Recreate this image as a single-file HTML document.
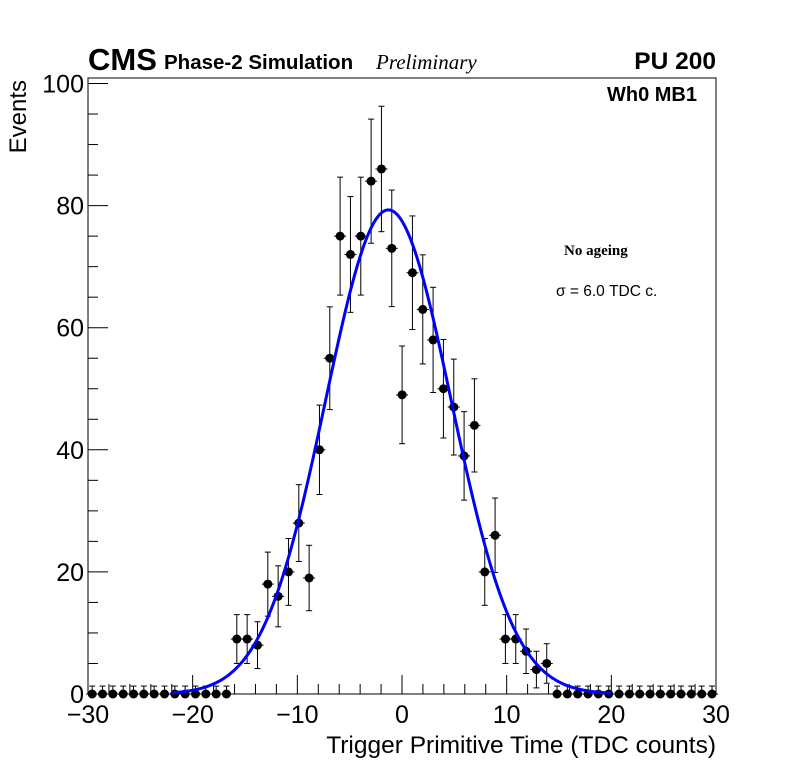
<!DOCTYPE html>
<html><head><meta charset="utf-8"><style>
body{margin:0;background:#fff}
svg{display:block;font-family:"Liberation Sans",sans-serif}
</style></head><body>
<svg id="c" width="796" height="772" viewBox="0 0 796 772">
<rect x="0" y="0" width="796" height="772" fill="#fff"/>
<g id="marks"></g>
<text x="88" y="70" font-size="31" font-weight="bold">CMS</text>
<text x="164" y="69" font-size="20.5" font-weight="bold">Phase-2 Simulation</text>
<text x="376" y="69" font-size="21" font-style="italic" font-family="Liberation Serif, serif">Preliminary</text>
<text x="716" y="69" font-size="24.5" font-weight="bold" text-anchor="end">PU 200</text>
<text x="697" y="101" font-size="20" font-weight="bold" text-anchor="end">Wh0 MB1</text>
<text x="564" y="255" font-size="15" font-weight="bold" font-family="Liberation Serif, serif">No ageing</text>
<text x="556" y="296" font-size="15.5">σ = 6.0 TDC c.</text>
<text transform="translate(26,80) rotate(-90)" font-size="24" text-anchor="end">Events</text>
<text x="716" y="753" font-size="24.5" text-anchor="end">Trigger Primitive Time (TDC counts)</text>
</svg>
<script>
const xTicks = [-30,-20,-10,0,10,20,30];
const xTickLabels = ["\u221230","\u221220","\u221210","0","10","20","30"];
const yTicks = [0,20,40,60,80,100];
const yTickLabels = ["0","20","40","60","80","100"];
const binCount = 61;
const firstCenter = -29.6;
const binStep = 0.987;
const counts = [0,0,0,0,0,0,0,0,0,0,0,0,0,0,
 9,9,8,18,16,20,28,19,40,55,75,72,75,84,86,73,49,69,63,58,50,47,39,44,20,26,9,9,7,4,5,
 0,0,0,0,0,0,0,0,0,0,0,0,0,0,0,0];
const fitAmp = 79.3, fitMean = -1.3, fitSigma = 6.0;
const fitRange = [-22, 20];

const X0=88,X1=716,Y0=694,Y100=83.5;
const sx=v=>X0+(v+30)*(X1-X0)/60;
const sy=v=>Y0-v*(Y0-Y100)/100;
const NS="http://www.w3.org/2000/svg";
const g=document.getElementById('marks');
function mk(t,a,p){const e=document.createElementNS(NS,t);for(const k in a)e.setAttribute(k,a[k]);(p||g).appendChild(e);return e;}

const frame=mk('rect',{x:X0,y:78,width:X1-X0,height:Y0-78,fill:'none',stroke:'#000','stroke-width':1});



for(let v=-30;v<=30;v+=2){const maj=v%10===0;const t=mk('line',{x1:sx(v),x2:sx(v),y1:Y0,y2:Y0-(maj?19:10),stroke:'#000'});

}
for(let v=0;v<=100;v+=5){const maj=v%20===0;const t=mk('line',{x1:X0,x2:X0+(maj?20:10),y1:sy(v),y2:sy(v),stroke:'#000'});

}
xTicks.forEach((v,i)=>{const t=mk('text',{x:sx(v),y:723,'font-size':25,'text-anchor':'middle'});t.textContent=xTickLabels[i];

});
yTicks.forEach((v,i)=>{const t=mk('text',{x:X0-4,y:sy(v)+9,'font-size':25,'text-anchor':'end'});t.textContent=yTickLabels[i];

});

counts.forEach((n,i)=>{
 const c=firstCenter+i*binStep;
 const px=sx(c),py=sy(n);
 const err=n>0?Math.sqrt(n)+1:1.3;
 const grp=mk('g',{});
 
 
 mk('line',{x1:px,x2:px,y1:sy(n+err),y2:sy(Math.max(0,n-err)),stroke:'#000'},grp);
 mk('line',{x1:px-3,x2:px+3,y1:sy(n+err),y2:sy(n+err),stroke:'#000'},grp);
 if(n>0)mk('line',{x1:px-3,x2:px+3,y1:sy(n-err),y2:sy(n-err),stroke:'#000'},grp);
 mk('line',{x1:px-6,x2:px+6,y1:py,y2:py,stroke:'#000'},grp);
 mk('circle',{cx:px,cy:py,r:4.5,fill:'#000'},grp);
});

let d='';
for(let k=0;k<=300;k++){const x=fitRange[0]+(fitRange[1]-fitRange[0])*k/300;
 const y=fitAmp*Math.exp(-0.5*Math.pow((x-fitMean)/fitSigma,2));
 d+=(k?'L':'M')+sx(x).toFixed(2)+','+sy(y).toFixed(2);}
const fit=mk('path',{d:d,fill:'none',stroke:'#0000ff','stroke-width':3});


</script>
</body></html>
